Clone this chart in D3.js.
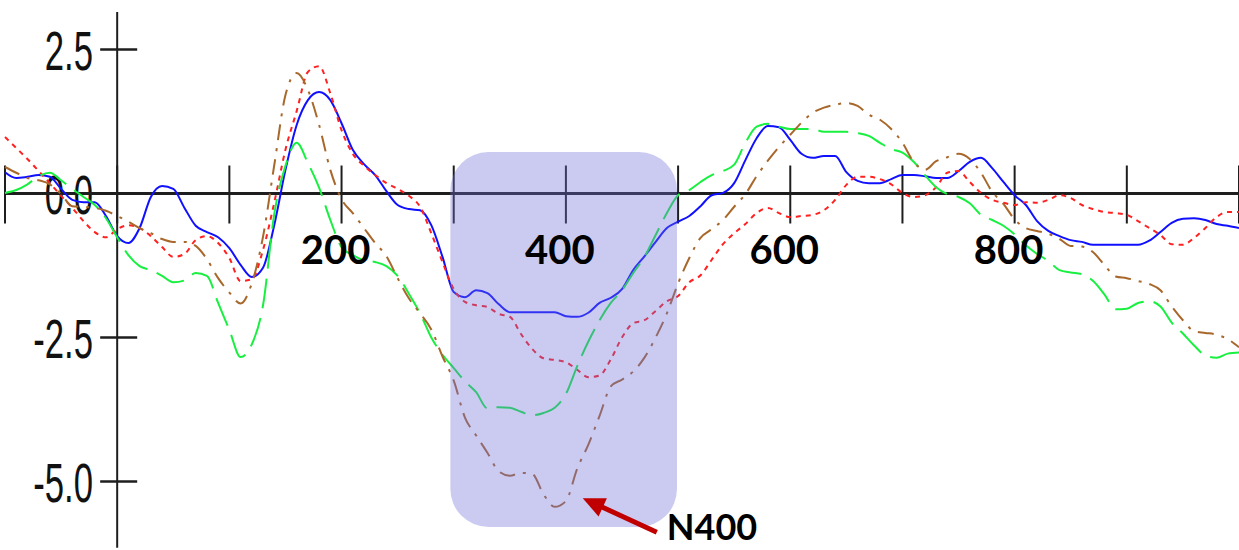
<!DOCTYPE html>
<html><head><meta charset="utf-8">
<script src="https://cdn.jsdelivr.net/npm/d3@7"></script>
<style>html,body{margin:0;padding:0;background:#fff;overflow:hidden}svg{display:block}</style>
</head><body>
<svg id="chart" width="1239" height="550"></svg>
<script>
// ---------- data (ms, µV) ----------
const timesMs = [-100,-90,-80,-70,-60,-50,-40,-30,-20,-10,
  0,10,20,30,40,50,60,70,80,90,
  100,110,120,130,140,150,160,170,180,190,
  200,210,220,230,240,250,260,270,280,290,
  300,310,320,330,340,350,360,370,380,390,
  400,410,420,430,440,450,460,470,480,490,
  500,510,520,530,540,550,560,570,580,590,
  600,610,620,630,640,650,660,670,680,690,
  700,710,720,730,740,750,760,770,780,790,
  800,810,820,830,840,850,860,870,880,890,
  900,910,920,930,940,950,960,970,980,990,1000];

const blueSeries = [0.37,0.27,0.29,0.32,0.29,0.08,-0.11,-0.15,-0.15,-0.39,
  -0.74,-0.86,-0.60,-0.06,0.13,0.08,-0.25,-0.56,-0.67,-0.76,
  -0.95,-1.24,-1.45,-1.29,-0.55,0.41,1.19,1.62,1.76,1.62,
  1.22,0.76,0.51,0.32,0.04,-0.20,-0.27,-0.29,-0.55,-1.10,
  -1.71,-1.80,-1.68,-1.73,-1.92,-2.06,-2.06,-2.06,-2.06,-2.06,
  -2.13,-2.14,-2.07,-1.90,-1.81,-1.66,-1.33,-1.09,-0.84,-0.60,
  -0.49,-0.39,-0.22,-0.03,0.01,0.18,0.58,0.96,1.17,1.15,
  0.93,0.69,0.62,0.65,0.65,0.37,0.22,0.18,0.18,0.25,
  0.32,0.32,0.30,0.27,0.27,0.39,0.55,0.62,0.44,0.20,
  -0.03,-0.20,-0.48,-0.65,-0.74,-0.81,-0.84,-0.89,-0.89,-0.89,
  -0.89,-0.89,-0.82,-0.67,-0.51,-0.44,-0.43,-0.46,-0.53,-0.56,-0.60];

const redSeries = [0.98,0.79,0.60,0.39,0.18,-0.04,-0.25,-0.48,-0.67,-0.76,
  -0.62,-0.55,-0.60,-0.74,-0.93,-1.10,-1.05,-0.81,-0.74,-0.86,
  -1.12,-1.52,-1.49,-0.98,-0.16,0.76,1.43,2.11,2.21,1.74,
  1.10,0.69,0.48,0.32,0.18,0.08,-0.04,-0.23,-0.69,-1.19,
  -1.66,-1.88,-1.94,-1.97,-2.09,-2.14,-2.44,-2.70,-2.86,-2.89,
  -2.93,-3.06,-3.19,-3.16,-2.88,-2.50,-2.25,-2.20,-2.04,-1.87,
  -1.78,-1.54,-1.42,-1.15,-0.88,-0.69,-0.53,-0.34,-0.25,-0.34,
  -0.41,-0.39,-0.37,-0.29,-0.11,0.15,0.29,0.29,0.25,0.16,
  0.01,-0.06,-0.03,0.11,0.36,0.39,0.20,0.01,-0.11,-0.16,
  -0.20,-0.15,-0.16,-0.11,-0.03,-0.08,-0.20,-0.27,-0.32,-0.34,
  -0.37,-0.48,-0.60,-0.72,-0.88,-0.89,-0.77,-0.60,-0.41,-0.32,-0.32];

const greenSeries = [0.01,0.06,0.16,0.30,0.36,0.23,0.08,-0.06,-0.20,-0.43,
  -0.76,-1.07,-1.26,-1.33,-1.43,-1.54,-1.51,-1.38,-1.43,-1.90,
  -2.37,-2.84,-2.62,-1.94,-0.36,0.48,0.88,0.53,0.10,-0.46,
  -0.93,-1.07,-1.16,-1.19,-1.26,-1.43,-1.74,-2.08,-2.50,-2.80,
  -3.03,-3.26,-3.45,-3.73,-3.71,-3.72,-3.79,-3.85,-3.81,-3.72,
  -3.48,-3.00,-2.57,-2.20,-1.90,-1.68,-1.38,-1.10,-0.72,-0.34,
  -0.03,0.06,0.20,0.32,0.39,0.50,0.88,1.16,1.21,1.16,
  1.12,1.12,1.12,1.07,1.07,1.07,1.05,1.00,0.88,0.77,
  0.71,0.55,0.32,0.11,-0.01,-0.06,-0.17,-0.37,-0.46,-0.56,
  -0.71,-0.90,-1.05,-1.17,-1.33,-1.37,-1.40,-1.52,-1.75,-2.01,
  -2.00,-1.90,-1.87,-1.96,-2.24,-2.43,-2.64,-2.81,-2.85,-2.78,-2.76];

const brownSeries = [0.46,0.36,0.27,0.23,0.16,-0.01,-0.22,-0.23,-0.25,-0.30,
  -0.39,-0.49,-0.60,-0.69,-0.79,-0.84,-0.84,-0.91,-1.14,-1.47,
  -1.72,-1.91,-1.56,-0.75,0.49,1.71,2.09,1.80,1.19,0.41,
  -0.10,-0.34,-0.60,-0.86,-1.09,-1.47,-1.82,-2.08,-2.36,-2.83,
  -3.25,-3.89,-4.20,-4.50,-4.82,-4.90,-4.85,-4.87,-5.22,-5.44,
  -5.34,-4.78,-4.36,-3.86,-3.35,-3.23,-3.09,-2.85,-2.50,-2.08,
  -1.56,-1.12,-0.77,-0.62,-0.46,-0.23,-0.01,0.30,0.57,0.81,
  1.02,1.23,1.40,1.49,1.54,1.57,1.52,1.37,1.28,1.12,
  0.88,0.55,0.41,0.56,0.63,0.69,0.60,0.36,0.03,-0.18,
  -0.45,-0.60,-0.65,-0.70,-0.79,-0.91,-0.92,-1.02,-1.24,-1.44,
  -1.47,-1.52,-1.57,-1.68,-1.96,-2.20,-2.39,-2.42,-2.45,-2.53,-2.67];

const xTickValues = [-100,0,100,200,300,400,500,600,700,800,900,1000];
const xLabelValues = [200,400,600,800];
const yTickValues = [2.5,0,-2.5,-5];
const yTickLabels = ["2.5","0.0","-2.5","-5.0"];
const n400WindowMs = [297,499];
const n400RangeUv = [0.72,-5.79];
const annotationText = "N400";

// ---------- drawing ----------
const svg = d3.select("#chart");
const x = d3.scaleLinear().domain([-100,1000]).range([5,1239]);
const y = d3.scaleLinear().domain([0,-5]).range([193.5,481.5]);

const series = [
  {values: blueSeries,  color:"#1010ff", dash:null},
  {values: redSeries,   color:"#ff2020", dash:"5,5"},
  {values: greenSeries, color:"#18f040", dash:"30,10"},
  {values: brownSeries, color:"#a8682c", dash:"16,8,3,8"}
];

// y tick labels (condensed)
const yLab = svg.append("g");
yTickValues.forEach((v,i)=>{
  yLab.append("g").attr("transform",`translate(93,${y(v)+20}) scale(0.62,1)`)
    .append("text").attr("text-anchor","end")
    .attr("font-family","'Liberation Sans', Arial, sans-serif")
    .attr("font-size",56).attr("fill","#111").text(yTickLabels[i]);
});

// axes
const ax = svg.append("g").attr("stroke","#1e1e1e");
ax.append("line").attr("x1",x(-100)).attr("x2",x(1000)).attr("y1",y(0)).attr("y2",y(0)).attr("stroke-width",3);
ax.append("line").attr("x1",x(0)).attr("x2",x(0)).attr("y1",y(3.15)).attr("y2",y(-6.15)).attr("stroke-width",2);
ax.selectAll(".xt").data(xTickValues).join("line")
  .attr("x1",d=>x(d)).attr("x2",d=>x(d)).attr("y1",y(0)-28).attr("y2",y(0)+30).attr("stroke-width",2);
ax.selectAll(".yt").data(yTickValues).join("line")
  .attr("x1",x(0)-17).attr("x2",x(0)+20).attr("y1",d=>y(d)).attr("y2",d=>y(d)).attr("stroke-width",2.5);

// series
const line = d3.line().x((d,i)=>x(timesMs[i])).y(d=>y(d)).curve(d3.curveMonotoneX);
svg.append("g").selectAll("path").data(series).join("path")
  .attr("d",d=>line(d.values)).attr("fill","none")
  .attr("stroke",d=>d.color).attr("stroke-width",2)
  .attr("stroke-dasharray",d=>d.dash);

// N400 window box
svg.append("rect")
  .attr("x",x(n400WindowMs[0])).attr("width",x(n400WindowMs[1])-x(n400WindowMs[0]))
  .attr("y",y(n400RangeUv[0])).attr("height",y(n400RangeUv[1])-y(n400RangeUv[0]))
  .attr("rx",38).attr("ry",38)
  .attr("fill","rgb(110,110,220)").attr("fill-opacity",0.36);

// x labels
svg.append("g").selectAll("text").data(xLabelValues).join("text")
  .attr("x",d=>x(d)-6).attr("y",y(0)+70).attr("text-anchor","middle")
  .attr("font-family","Lato, 'Open Sans', sans-serif").attr("font-weight","bold")
  .attr("font-size",40).attr("fill","#000").text(d=>d);

// arrow
const tip = [x(415), y(-5.29)], tail = [x(481), y(-5.88)];
const dx = tip[0]-tail[0], dy = tip[1]-tail[1], L = Math.hypot(dx,dy);
const ux = dx/L, uy = dy/L, hl = 22, hw = 10;
svg.append("line").attr("x1",tail[0]).attr("y1",tail[1])
  .attr("x2",tip[0]-ux*(hl-2)).attr("y2",tip[1]-uy*(hl-2))
  .attr("stroke","#c00000").attr("stroke-width",5);
const bx = tip[0]-ux*hl, by = tip[1]-uy*hl;
svg.append("path").attr("fill","#c00000")
  .attr("d",`M${tip[0]},${tip[1]}L${bx-uy*hw},${by+ux*hw}L${bx+uy*hw},${by-ux*hw}Z`);

svg.append("text").attr("x",x(490)).attr("y",y(-6.02))
  .attr("font-family","Lato, 'Open Sans', sans-serif").attr("font-weight","bold")
  .attr("font-size",36).attr("fill","#000").text(annotationText);
</script>
</body></html>
